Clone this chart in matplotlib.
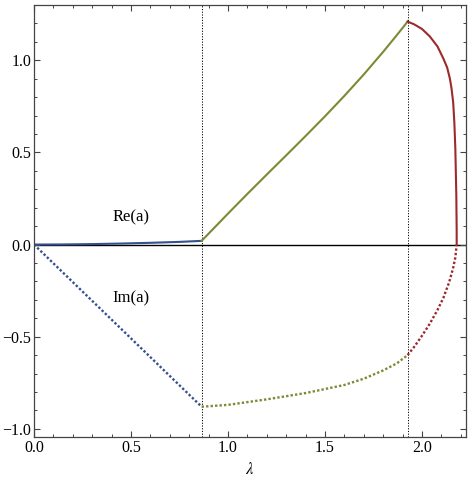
import matplotlib
matplotlib.use('Agg')
import matplotlib.pyplot as plt
from matplotlib.ticker import MultipleLocator
import numpy as np

# values
lam1, lam2 = 0.864, 1.926   # vertical dotted lines

# branch 1 (blue), 0 < lambda < lam1
lam_b = [0.0, 0.15, 0.3, 0.45, 0.6, 0.75, 0.864]
re_b = [0.0, 0.0006, 0.0025, 0.0055, 0.0095, 0.0145, 0.02]
im_b = [0.0, -0.1528, -0.3056, -0.4583, -0.6111, -0.7639, -0.88]

# branch 2 (olive), lam1 < lambda < lam2
lam_g = [0.864, 1.0, 1.1, 1.2, 1.3, 1.4, 1.5, 1.6, 1.7, 1.8, 1.87, 1.926]
re_g = [0.02, 0.168, 0.275, 0.380, 0.484, 0.589, 0.696, 0.807, 0.923, 1.046, 1.136, 1.21]
lam_gi = [0.864, 1.0, 1.2, 1.4, 1.6, 1.7, 1.8, 1.87, 1.926]
im_g = [-0.88, -0.870, -0.840, -0.806, -0.762, -0.728, -0.683, -0.645, -0.60]

# branch 3 (red), lambda > lam2
lam_r = [1.926, 1.96, 2.0, 2.04, 2.08, 2.11, 2.13, 2.144, 2.152, 2.161,
         2.167, 2.172, 2.175, 2.177, 2.1788, 2.179]
re_r = [1.21, 1.195, 1.17, 1.13, 1.075, 1.01, 0.96, 0.90, 0.85, 0.77,
        0.66, 0.52, 0.37, 0.27, 0.09, 0.0]
lam_ri = [1.926, 1.96, 2.0, 2.04, 2.08, 2.11, 2.14, 2.16, 2.172, 2.179]
im_r = [-0.60, -0.555, -0.495, -0.43, -0.355, -0.29, -0.205, -0.13, -0.07, 0.0]

c_blue = '#34508f'
c_green = '#7b8a34'
c_red = '#9b2b2b'

plt.rcParams['font.family'] = ['Liberation Serif', 'DejaVu Serif']
plt.rcParams['mathtext.fontset'] = 'stix'

fig = plt.figure(figsize=(4.71, 4.86), dpi=100)
ax = fig.add_axes([0.0722, 0.1002, 0.9172, 0.8895])

dots = (0, (1.0, 0.9))
ax.axhline(0, color='black', lw=1.0, zorder=1)
ax.axvline(lam1, color='black', lw=0.7, ls=(0, (1.2, 1.6)), zorder=1)
ax.axvline(lam2, color='black', lw=0.7, ls=(0, (1.2, 1.6)), zorder=1)

ax.plot(lam_b, re_b, color=c_blue, lw=1.5)
ax.plot(lam_g, re_g, color=c_green, lw=1.5)
ax.plot(lam_r, re_r, color=c_red, lw=1.5)
ax.plot(lam_b, im_b, color=c_blue, lw=1.7, ls=dots)
ax.plot(lam_gi, im_g, color=c_green, lw=1.7, ls=dots)
ax.plot(lam_ri, im_r, color=c_red, lw=1.7, ls=dots)

ax.text(0.5, 0.15, 'Re(a)', fontsize=12, ha='center', va='center')
ax.text(0.5, -0.29, 'Im(a)', fontsize=12, ha='center', va='center')

ax.set_xlim(0, 2.227)
ax.set_ylim(-1.046, 1.30)
ax.set_xlabel(r'$\lambda$', fontsize=12, labelpad=4)

ax.xaxis.set_major_locator(MultipleLocator(0.5))
ax.xaxis.set_minor_locator(MultipleLocator(0.1))
ax.yaxis.set_major_locator(MultipleLocator(0.5))
ax.yaxis.set_minor_locator(MultipleLocator(0.1))
ax.xaxis.set_major_formatter(plt.FuncFormatter(lambda v, p: '%.1f' % v if abs(v) > 1e-9 else '0.0'))
ax.yaxis.set_major_formatter(plt.FuncFormatter(lambda v, p: ('%.1f' % v).replace('-', '\u2212') if abs(v) > 1e-9 else '0.0'))

ax.tick_params(which='both', direction='in', top=True, right=True, color='#444444', labelsize=11.5, pad=2)
ax.tick_params(which='major', length=4.5, width=0.8)
ax.tick_params(which='minor', length=2.4, width=0.7)
for s in ax.spines.values():
    s.set_color('#444444')
    s.set_linewidth(0.9)

fig.savefig('out.png', dpi=100)
